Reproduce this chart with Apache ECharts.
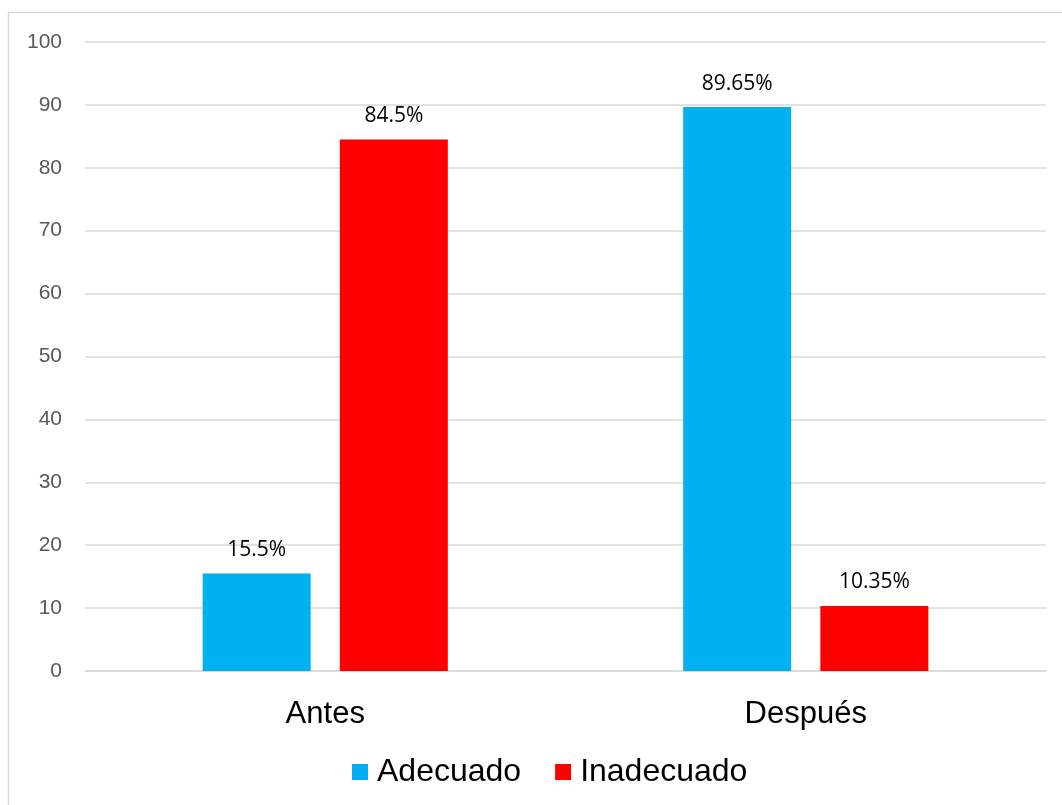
<!DOCTYPE html>
<html><head><meta charset="utf-8">
<script src="https://cdn.jsdelivr.net/npm/echarts@6/dist/echarts.min.js"></script>
<style>html,body{margin:0;padding:0;background:#fff}#c{width:1062px;height:805px}</style>
</head><body><div id="c"></div>
<script>
const categories = ['Antes', 'Después'];
const adecuado = [15.5, 89.65];
const inadecuado = [84.5, 10.35];
const seriesNames = ['Adecuado', 'Inadecuado'];

const chart = echarts.init(document.getElementById('c'));
const labelCfg = {
  show: true, position: 'top', distance: 13, color: '#000',
  fontFamily: 'Open Sans', fontSize: 21,
  formatter: p => p.value + '%'
};
chart.setOption({
  animation: false,
  graphic: [{type: 'rect', shape: {x: 8.5, y: 12.5, width: 1080, height: 820}, style: {fill: 'none', stroke: '#d9d9d9', lineWidth: 1.5}, silent: true}],
  grid: {left: 85, right: 16, top: 42, bottom: 134, containLabel: false},
  legend: {
    bottom: 12, left: 347, itemWidth: 16, itemHeight: 16, itemGap: 34,
    icon: 'rect',
    textStyle: {fontFamily: 'Liberation Sans', fontSize: 32, color: '#000', padding: [0, 0, 0, 4]},
    data: seriesNames
  },
  xAxis: {
    type: 'category', data: categories,
    axisLine: {show: true, lineStyle: {color: '#d9d9d9', width: 1.5}},
    axisTick: {show: false},
    axisLabel: {fontFamily: 'Liberation Sans', fontSize: 31, color: '#000', margin: 28}
  },
  yAxis: {
    type: 'value', min: 0, max: 100, interval: 10,
    axisLine: {show: false}, axisTick: {show: false},
    splitLine: {lineStyle: {color: '#d9d9d9', width: 1.5}},
    axisLabel: {fontFamily: 'Liberation Sans', fontSize: 21, color: '#595959', margin: 23}
  },
  series: [
    {name: seriesNames[0], type: 'bar', data: adecuado, barWidth: 108, barGap: '27%', itemStyle: {color: '#00B0F0'}, label: labelCfg},
    {name: seriesNames[1], type: 'bar', data: inadecuado, barWidth: 108, barGap: '27%', itemStyle: {color: '#FF0000'}, label: labelCfg}
  ]
});
</script></body></html>
